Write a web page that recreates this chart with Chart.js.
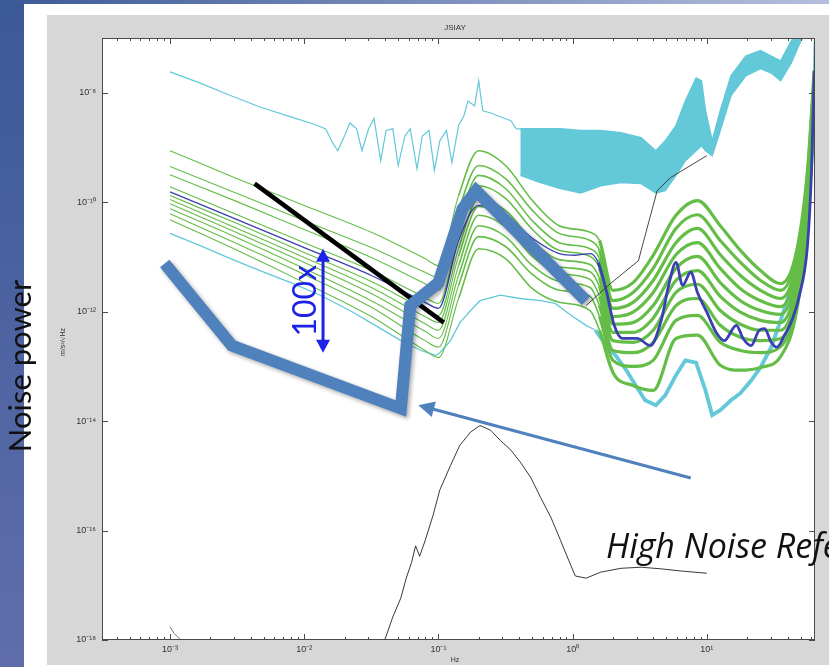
<!DOCTYPE html>
<html>
<head>
<meta charset="utf-8">
<script src="https://cdn.jsdelivr.net/npm/chart.js@4.4.1/dist/chart.umd.min.js"></script>
<style>
  html, body { margin: 0; padding: 0; background: #fff; overflow: hidden; }
  canvas { display: block; }
</style>
</head>
<body>
<canvas id="c" width="829" height="667"></canvas>
<script>
// ---- Data (log10 frequency in Hz, log10 noise PSD) ----
const freqLog = [-3, -2.5, -2, -1.5, -1.1, -1.0, -0.85, -0.7, -0.5, -0.3, -0.1, 0.13, 0.2, 0.3, 0.45, 0.6, 0.77, 0.93, 1.1, 1.25, 1.4, 1.55, 1.67, 1.75, 1.8];

const station1  = [-9.06, -9.57, -10.06, -10.55, -11.03, -11.16, -9.88, -9.06, -9.33, -9.97, -10.43, -10.55, -10.70, -11.61, -11.47, -10.97, -10.24, -9.97, -10.43, -10.88, -11.25, -11.49, -10.88, -9.42, -7.60];
const station2  = [-9.35, -9.84, -10.34, -10.83, -11.28, -11.38, -10.15, -9.33, -9.57, -10.15, -10.57, -10.70, -10.88, -11.80, -11.65, -11.21, -10.48, -10.23, -10.70, -11.10, -11.43, -11.61, -10.97, -9.51, -7.69];
const station3  = [-9.50, -9.99, -10.50, -11.01, -11.49, -11.61, -10.37, -9.51, -9.75, -10.34, -10.74, -10.85, -11.03, -11.94, -11.83, -11.43, -10.74, -10.48, -10.96, -11.34, -11.61, -11.76, -11.10, -9.61, -7.78];
const station4  = [-9.72, -10.23, -10.74, -11.25, -11.74, -11.85, -10.61, -9.70, -9.93, -10.50, -10.88, -10.99, -11.21, -12.09, -12.01, -11.65, -10.96, -10.74, -11.21, -11.58, -11.80, -11.91, -11.21, -9.70, -7.87];
const station5  = [-9.88, -10.39, -10.92, -11.45, -11.96, -12.07, -10.85, -9.93, -10.15, -10.70, -11.05, -11.14, -11.39, -12.23, -12.20, -11.89, -11.21, -10.99, -11.47, -11.80, -11.98, -12.05, -11.34, -9.79, -7.96];
const station6  = [-9.95, -10.48, -11.01, -11.56, -12.09, -12.20, -10.99, -10.08, -10.30, -10.85, -11.18, -11.27, -11.54, -12.38, -12.38, -12.12, -11.43, -11.25, -11.72, -12.01, -12.16, -12.20, -11.47, -9.90, -8.05];
const station7  = [-10.03, -10.56, -11.10, -11.67, -12.22, -12.34, -11.16, -10.24, -10.45, -10.99, -11.30, -11.41, -11.72, -12.53, -12.56, -12.34, -11.65, -11.50, -11.98, -12.23, -12.34, -12.34, -11.60, -10.01, -8.15];
const station8  = [-10.12, -10.65, -11.21, -11.80, -12.36, -12.49, -11.34, -10.43, -10.63, -11.16, -11.45, -11.56, -11.89, -12.71, -12.75, -12.56, -11.89, -11.76, -12.25, -12.47, -12.53, -12.49, -11.72, -10.12, -8.24];
const station9  = [-10.21, -10.76, -11.32, -11.92, -12.53, -12.65, -11.52, -10.63, -10.81, -11.32, -11.61, -11.72, -12.09, -12.89, -13.00, -12.89, -12.16, -12.07, -12.56, -12.71, -12.75, -12.64, -11.85, -10.23, -8.33];
const station10 = [-10.32, -10.88, -11.47, -12.09, -12.71, -12.84, -11.76, -10.85, -11.03, -11.58, -11.83, -11.98, -12.34, -13.11, -13.35, -13.44, -12.49, -12.43, -12.98, -13.07, -13.02, -12.82, -11.98, -10.34, -8.42];

const meanFreqLog = [-3.00, -2.50, -2.00, -1.50, -1.10, -1.00, -0.85, -0.70, -0.50, -0.30, -0.10, 0.02, 0.13, 0.19, 0.25, 0.31, 0.37, 0.48, 0.58, 0.66, 0.72, 0.77, 0.82, 0.88, 0.93, 1.00, 1.07, 1.13, 1.22, 1.27, 1.33, 1.39, 1.43, 1.48, 1.52, 1.58, 1.64, 1.69, 1.75, 1.78, 1.80];
const stationMean = [-9.81, -10.32, -10.83, -11.34, -11.83, -11.94, -10.70, -10.06, -10.24, -10.66, -10.94, -10.97, -10.94, -11.10, -11.61, -12.25, -12.49, -12.49, -12.62, -12.16, -11.47, -11.10, -11.52, -11.28, -11.65, -12.01, -12.38, -12.53, -12.25, -12.49, -12.62, -12.34, -12.31, -12.56, -12.65, -12.43, -12.12, -11.70, -10.79, -9.42, -7.60];

// High noise model (low-frequency part, then the dense band)
const highFreqLog = [-3.00, -2.78, -2.55, -2.33, -2.10, -1.92, -1.84, -1.79, -1.75, -1.70, -1.66, -1.61, -1.57, -1.52, -1.48, -1.43, -1.39, -1.34, -1.30, -1.25, -1.21, -1.16, -1.12, -1.07, -1.03, -0.99, -0.94, -0.90, -0.85, -0.81, -0.78, -0.73, -0.70, -0.67, -0.61, -0.54, -0.46, -0.42, -0.39];
const highLog = [-7.62, -7.82, -8.05, -8.26, -8.44, -8.58, -8.66, -8.91, -9.06, -8.79, -8.55, -8.66, -9.06, -8.66, -8.47, -9.24, -8.69, -8.66, -9.33, -8.79, -8.66, -9.39, -8.79, -8.69, -9.42, -8.88, -8.69, -9.28, -8.60, -8.42, -8.15, -8.24, -7.78, -8.33, -8.37, -8.44, -8.51, -8.66, -8.66];
const bandFreqLog = [-0.39, -0.24, -0.09, 0.06, 0.21, 0.36, 0.51, 0.62, 0.69, 0.77, 0.84, 0.92, 0.96, 0.99, 1.04, 1.10, 1.18, 1.29, 1.40, 1.48, 1.55, 1.63, 1.70, 1.75];
const bandUpperLog = [-8.66, -8.66, -8.66, -8.69, -8.69, -8.73, -8.82, -9.06, -8.88, -8.60, -8.15, -7.73, -7.78, -8.33, -8.88, -8.33, -7.69, -7.33, -7.23, -7.33, -7.42, -7.05, -6.87, -6.69];
const bandLowerLog = [-9.51, -9.64, -9.75, -9.83, -9.70, -9.64, -9.66, -9.83, -9.79, -9.51, -9.24, -9.06, -8.97, -9.06, -9.15, -8.69, -8.05, -7.69, -7.56, -7.64, -7.78, -7.45, -7.05, -6.87];

// Quietest station
const lowFreqLog = [-3.00, -2.78, -2.55, -2.33, -2.10, -1.88, -1.66, -1.43, -1.28, -1.13, -1.02, -0.99, -0.91, -0.84, -0.76, -0.69, -0.54, -0.39, -0.24, -0.13, -0.01, 0.10, 0.17, 0.25, 0.32, 0.40, 0.47, 0.54, 0.62, 0.69, 0.77, 0.84, 0.92, 0.99, 1.04, 1.10, 1.18, 1.25, 1.33, 1.40, 1.48, 1.55, 1.63, 1.70, 1.75, 1.78, 1.80, 1.81];
const lowLog = [-10.57, -10.79, -11.03, -11.25, -11.47, -11.70, -11.98, -12.31, -12.53, -12.71, -12.80, -12.75, -12.53, -12.20, -11.98, -11.80, -11.70, -11.76, -11.80, -11.85, -12.07, -12.25, -12.34, -12.62, -12.80, -13.07, -13.35, -13.62, -13.71, -13.53, -13.16, -12.89, -12.93, -13.44, -13.89, -13.80, -13.62, -13.49, -13.26, -13.02, -12.65, -12.16, -11.56, -10.88, -10.24, -9.24, -8.15, -7.05];

// Thin black traces
const ratioFreqLog = [-1.40, -1.34, -1.28, -1.24, -1.20, -1.17, -1.14, -1.10, -1.04, -0.99, -0.91, -0.84, -0.76, -0.69, -0.61, -0.54, -0.46, -0.39, -0.31, -0.24, -0.16, -0.09, -0.03, 0.02, 0.10, 0.21, 0.36, 0.51, 0.66, 0.81, 1.00];
const ratioLog = [-18.00, -17.58, -17.23, -16.87, -16.58, -16.28, -16.47, -16.19, -15.72, -15.26, -14.81, -14.44, -14.20, -14.08, -14.17, -14.35, -14.53, -14.75, -15.04, -15.39, -15.77, -16.18, -16.54, -16.83, -16.87, -16.76, -16.69, -16.67, -16.70, -16.74, -16.78];
const refFreqLog = [0.10, 0.28, 0.49, 0.54, 0.63, 0.73, 1.00];
const refLog = [-11.89, -11.49, -11.07, -10.61, -9.79, -9.55, -9.15];
const edgeFreqLog = [-3.00, -2.97, -2.92];
const edgeLog = [-17.76, -17.88, -18.00];

// Overlaid sketch: high-noise reference path, slope guide, 100x span, pointer
const refPathFreqLog = [-3.04, -2.54, -1.28, -1.21, -1.00, -0.82, -0.72, 0.10];
const refPathLog = [-11.12, -12.62, -13.77, -11.89, -11.47, -10.12, -9.79, -11.80];
const slopeFreqLog = [-2.37, -0.96];
const slopeLog = [-9.66, -12.20];
const spanFreqLog = [-1.86, -1.86];
const spanLog = [-10.85, -12.75];
const pointerFreqLog = [0.88, -1.15];
const pointerLog = [-15.04, -13.71];

// Axis ticks (decades)
const xTicks = [-3, -2, -1, 0, 1];
const yTicks = [-18, -16, -14, -12, -10, -8];

// ---- Helpers ----
const SUP = { '-': '\u207B', '0': '\u2070', '1': '\u00B9', '2': '\u00B2', '3': '\u00B3', '4': '\u2074', '5': '\u2075', '6': '\u2076', '7': '\u2077', '8': '\u2078', '9': '\u2079' };
const decade = v => '10' + String(v).replace(/[-0-9]/g, c => SUP[c]);
const pts = (xs, ys) => xs.map((x, i) => ({ x: x, y: ys[i] }));
const widthAbove = (lo, hi, cut) => ctx => (ctx.p0.parsed.x >= cut ? hi : lo);

const GREEN = '#64bd47';
const MEAN = '#3a40b2';
const CYAN = '#63c8d8';
const OFFICE_BLUE = '#4f81bd';
const ARROW_BLUE = '#1c22e6';

const stations = [station1, station2, station3, station4, station5, station6, station7, station8, station9, station10];

const datasets = [];
// overlay sketch lines (drawn on top)
datasets.push({ data: pts(refPathFreqLog, refPathLog), borderColor: OFFICE_BLUE, borderWidth: 12, borderJoinStyle: 'miter', borderCapStyle: 'butt', order: 0, shade: true });
datasets.push({ data: pts(slopeFreqLog, slopeLog), borderColor: '#000', borderWidth: 4.5, borderCapStyle: 'butt', order: 0 });
// thin black traces
datasets.push({ data: pts(ratioFreqLog, ratioLog), borderColor: '#222', borderWidth: 0.9, order: 1 });
datasets.push({ data: pts(refFreqLog, refLog), borderColor: '#333', borderWidth: 0.9, order: 1 });
datasets.push({ data: pts(edgeFreqLog, edgeLog), borderColor: '#666', borderWidth: 0.9, order: 1 });
// mean of stations
datasets.push({ data: pts(meanFreqLog, stationMean), borderColor: MEAN, borderWidth: 1.3, segment: { borderWidth: widthAbove(1.3, 2.8, 0.15) }, cubicInterpolationMode: 'monotone', order: 2 });
// individual stations
stations.forEach(s => datasets.push({ data: pts(freqLog, s), borderColor: GREEN, borderWidth: 1.1, segment: { borderWidth: ctx => (ctx.p0.parsed.x >= 0.15 ? 3.2 : (ctx.p0.parsed.x >= -0.9 ? 1.6 : 1.1)) }, cubicInterpolationMode: 'monotone', order: 3 }));
// quietest station
datasets.push({ data: pts(lowFreqLog, lowLog), borderColor: CYAN, borderWidth: 1.3, segment: { borderWidth: widthAbove(1.3, 3.8, 0.15) }, order: 4 });
// high noise model
datasets.push({ data: pts(highFreqLog, highLog), borderColor: CYAN, borderWidth: 1.2, order: 5 });
datasets.push({ data: pts(bandFreqLog, bandUpperLog), borderColor: CYAN, borderWidth: 1.5, fill: '+1', backgroundColor: CYAN, order: 5 });
datasets.push({ data: pts(bandFreqLog, bandLowerLog), borderColor: CYAN, borderWidth: 1.5, fill: false, order: 5 });

datasets.forEach(d => { d.pointRadius = 0; d.pointHoverRadius = 0; if (d.fill === undefined) d.fill = false; });

// ---- Plugins ----
const slideBackground = {
  id: 'slideBackground',
  beforeDraw(chart) {
    const ctx = chart.ctx;
    const { left, right, top, bottom } = chart.chartArea;
    ctx.save();
    ctx.fillStyle = '#ffffff';
    ctx.fillRect(0, 0, chart.width, chart.height);
    // figure panel
    ctx.fillStyle = '#d7d7d7';
    ctx.fillRect(47, 15, chart.width - 47, 650);
    ctx.fillStyle = '#ffffff';
    ctx.fillRect(left, top, right - left, bottom - top);
    // slide side bar
    const g = ctx.createLinearGradient(0, 0, 0, chart.height);
    g.addColorStop(0, '#3c5997');
    g.addColorStop(1, '#5f6eab');
    ctx.fillStyle = g;
    ctx.fillRect(0, 0, 24, chart.height);
    // slide top rule
    const h = ctx.createLinearGradient(0, 0, chart.width, 0);
    h.addColorStop(0, '#3c5997');
    h.addColorStop(1, '#b4bfdc');
    ctx.fillStyle = h;
    ctx.fillRect(0, 0, chart.width, 4);
    ctx.restore();
  }
};

const shade = {
  id: 'shade',
  beforeDatasetDraw(chart, args) {
    if (chart.data.datasets[args.index].shade) {
      const ctx = chart.ctx;
      ctx.save();
      ctx.shadowColor = 'rgba(0,0,0,0.35)';
      ctx.shadowBlur = 4;
      ctx.shadowOffsetX = 2;
      ctx.shadowOffsetY = 2;
    }
  },
  afterDatasetDraw(chart, args) {
    if (chart.data.datasets[args.index].shade) chart.ctx.restore();
  }
};

const axesFrame = {
  id: 'axesFrame',
  afterDatasetsDraw(chart) {
    const ctx = chart.ctx;
    const xs = chart.scales.x, ys = chart.scales.y;
    const { left, right, top, bottom } = chart.chartArea;
    ctx.save();
    ctx.strokeStyle = '#4a4a4a';
    ctx.lineWidth = 1;
    ctx.strokeRect(left + 0.5, top + 0.5, right - left - 1, bottom - top - 1);
    ctx.beginPath();
    yTicks.forEach(v => {
      const p = Math.round(ys.getPixelForValue(v)) + 0.5;
      ctx.moveTo(left, p); ctx.lineTo(left + 6, p);
      ctx.moveTo(right, p); ctx.lineTo(right - 6, p);
    });
    xTicks.forEach(v => {
      const p = Math.round(xs.getPixelForValue(v)) + 0.5;
      ctx.moveTo(p, bottom); ctx.lineTo(p, bottom - 6);
      ctx.moveTo(p, top); ctx.lineTo(p, top + 6);
    });
    for (let d = -4; d <= 1; d++) {
      for (let k = 2; k <= 9; k++) {
        const v = d + Math.log10(k);
        if (v <= xs.min || v >= xs.max) continue;
        const p = Math.round(xs.getPixelForValue(v)) + 0.5;
        ctx.moveTo(p, bottom); ctx.lineTo(p, bottom - 3);
        ctx.moveTo(p, top); ctx.lineTo(p, top + 3);
      }
    }
    ctx.stroke();
    ctx.restore();
  }
};

function arrowHead(ctx, fx, fy, tx, ty, len, half) {
  const a = Math.atan2(ty - fy, tx - fx);
  ctx.beginPath();
  ctx.moveTo(tx, ty);
  ctx.lineTo(tx - len * Math.cos(a) + half * Math.sin(a), ty - len * Math.sin(a) - half * Math.cos(a));
  ctx.lineTo(tx - len * Math.cos(a) - half * Math.sin(a), ty - len * Math.sin(a) + half * Math.cos(a));
  ctx.closePath();
  ctx.fill();
}

const notes = {
  id: 'notes',
  afterDraw(chart) {
    const ctx = chart.ctx;
    const xs = chart.scales.x, ys = chart.scales.y;
    ctx.save();

    // 100x span arrow
    const sx = xs.getPixelForValue(spanFreqLog[0]);
    const sy0 = ys.getPixelForValue(spanLog[0]);
    const sy1 = ys.getPixelForValue(spanLog[1]);
    ctx.strokeStyle = ARROW_BLUE; ctx.fillStyle = ARROW_BLUE; ctx.lineWidth = 3;
    ctx.beginPath(); ctx.moveTo(sx, sy0 + 10); ctx.lineTo(sx, sy1 - 10); ctx.stroke();
    arrowHead(ctx, sx, sy0 + 20, sx, sy0, 13, 7);
    arrowHead(ctx, sx, sy1 - 20, sx, sy1, 13, 7);
    ctx.save();
    ctx.translate(sx - 7, (sy0 + sy1) / 2);
    ctx.rotate(-Math.PI / 2);
    ctx.font = '32px Lato';
    ctx.textAlign = 'center';
    ctx.textBaseline = 'alphabetic';
    ctx.fillText('100x', 0, 0);
    ctx.restore();

    // pointer to the high noise reference path
    const px0 = xs.getPixelForValue(pointerFreqLog[0]), py0 = ys.getPixelForValue(pointerLog[0]);
    const px1 = xs.getPixelForValue(pointerFreqLog[1]), py1 = ys.getPixelForValue(pointerLog[1]);
    const a = Math.atan2(py1 - py0, px1 - px0);
    ctx.strokeStyle = OFFICE_BLUE; ctx.fillStyle = OFFICE_BLUE; ctx.lineWidth = 3;
    ctx.beginPath(); ctx.moveTo(px0, py0); ctx.lineTo(px1 - 12 * Math.cos(a), py1 - 12 * Math.sin(a)); ctx.stroke();
    arrowHead(ctx, px0, py0, px1, py1, 16, 8);

    ctx.fillStyle = '#111';
    ctx.font = 'italic 34px "Open Sans"';
    ctx.textAlign = 'left';
    ctx.fillText('High Noise Reference', 606, 558);

    // slide axis caption
    ctx.save();
    ctx.translate(31, 366);
    ctx.rotate(-Math.PI / 2);
    ctx.font = '31px Lato';
    ctx.textAlign = 'center';
    ctx.fillStyle = '#111';
    ctx.fillText('Noise power', 0, 0);
    ctx.restore();

    // figure title and axis names
    ctx.fillStyle = '#333';
    ctx.font = '8px "Liberation Sans"';
    ctx.textAlign = 'center';
    ctx.textBaseline = 'middle';
    ctx.fillText('JSIAY', 455, 28);
    ctx.font = '7px "Liberation Sans"';
    ctx.fillText('Hz', 455, 660);
    ctx.save();
    ctx.translate(63, 342);
    ctx.rotate(-Math.PI / 2);
    ctx.fillText('m/s\u00B2/\u221AHz', 0, 0);
    ctx.restore();

    ctx.restore();
  }
};

new Chart(document.getElementById('c'), {
  type: 'line',
  data: { datasets: datasets },
  options: {
    responsive: false,
    animation: false,
    devicePixelRatio: 1,
    events: [],
    layout: { padding: { top: 38, left: 0, right: 14, bottom: 0 } },
    plugins: { legend: { display: false }, tooltip: { enabled: false }, title: { display: false } },
    elements: { line: { tension: 0 } },
    scales: {
      x: {
        type: 'linear',
        min: -3.507,
        max: 1.806,
        afterBuildTicks: s => { s.ticks = xTicks.map(v => ({ value: v })); },
        afterFit: s => { s.height = 27; },
        grid: { display: false, drawTicks: false },
        border: { display: false },
        ticks: { callback: v => decade(v), font: { family: 'Liberation Sans', size: 9 }, color: '#333', padding: 4, maxRotation: 0, autoSkip: false }
      },
      y: {
        type: 'linear',
        min: -18,
        max: -7,
        afterBuildTicks: s => { s.ticks = yTicks.map(v => ({ value: v })); },
        afterFit: s => { s.width = 102; },
        grid: { display: false, drawTicks: false },
        border: { display: false },
        ticks: { callback: v => decade(v), font: { family: 'Liberation Sans', size: 9 }, color: '#333', padding: 6, autoSkip: false }
      }
    }
  },
  plugins: [slideBackground, shade, axesFrame, notes]
});
</script>
</body>
</html>
